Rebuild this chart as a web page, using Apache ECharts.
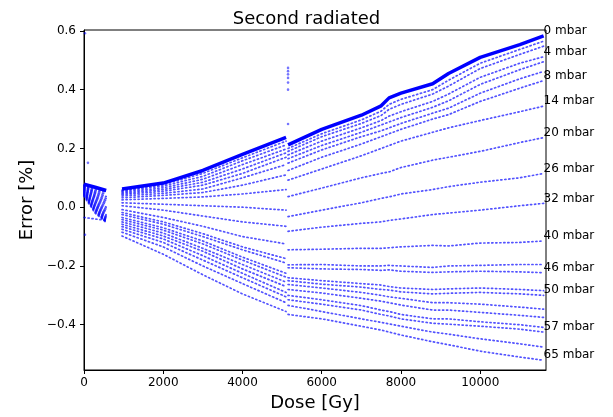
<!DOCTYPE html>
<html><head><meta charset="utf-8">
<script src="https://cdn.jsdelivr.net/npm/echarts@6/dist/echarts.min.js"></script>
<style>html,body{margin:0;padding:0;background:#fff}#c{width:613px;height:417px}</style>
</head><body><div id="c"></div>
<script>
// Dose sample points (Gy) for the three measurement segments
const doseA = [0, 280, 560];
const doseB = [960, 2000, 3000, 4000, 5100];
const doseC = [5150, 6000, 7000, 7500, 7700, 8000, 8800, 9200, 10000, 11000, 11600];

// Error [%] per pressure curve, values for doseA | doseB | doseC
const s0   = [0.078,0.068,0.057, 0.062,0.082,0.125,0.18,0.238, 0.212,0.265,0.313,0.345,0.372,0.388,0.42,0.455,0.51,0.553,0.583];
const s0b  = [0.076,0.063,0.05, 0.058,0.077,0.115,0.168,0.225, 0.20,0.25,0.297,0.327,0.35,0.367,0.40,0.432,0.49,0.537,0.565];
const s0c  = [0.074,0.058,0.043, 0.055,0.072,0.105,0.158,0.212, 0.19,0.24,0.285,0.312,0.333,0.35,0.385,0.412,0.472,0.52,0.548];
const s4   = [0.072,0.053,0.036, 0.051,0.066,0.095,0.145,0.198, 0.178,0.225,0.27,0.295,0.31,0.325,0.36,0.385,0.442,0.49,0.512];
const s4b  = [0.07,0.049,0.029, 0.047,0.06,0.085,0.13,0.185, 0.165,0.21,0.255,0.28,0.29,0.305,0.34,0.362,0.418,0.468,0.495];
const s4c  = [0.068,0.045,0.022, 0.043,0.054,0.075,0.115,0.17, 0.15,0.195,0.24,0.26,0.27,0.285,0.32,0.337,0.388,0.437,0.462];
const s8   = [0.066,0.04,0.015, 0.038,0.047,0.062,0.10,0.145, 0.125,0.17,0.215,0.24,0.25,0.265,0.30,0.315,0.36,0.405,0.431];
const s14  = [0.064,0.036,0.008, 0.032,0.04,0.05,0.075,0.11, 0.092,0.13,0.175,0.20,0.21,0.225,0.255,0.27,0.295,0.325,0.344];
const s20  = [0.062,0.032,0.0, 0.025,0.03,0.035,0.045,0.06, 0.036,0.065,0.10,0.115,0.12,0.135,0.16,0.17,0.19,0.22,0.237];
const s26  = [0.06,0.027,-0.007, 0.015,0.01,0.005,0.0,-0.01, -0.032,-0.01,0.015,0.03,0.035,0.045,0.06,0.07,0.085,0.10,0.115];
const s32  = [0.058,0.022,-0.014, 0.005,-0.01,-0.03,-0.05,-0.065, -0.082,-0.068,-0.055,-0.05,-0.045,-0.04,-0.025,-0.02,-0.01,0.005,0.013];
const s40  = [0.056,0.018,-0.02, -0.008,-0.035,-0.065,-0.10,-0.125, -0.145,-0.143,-0.14,-0.14,-0.138,-0.135,-0.13,-0.132,-0.122,-0.12,-0.115];
const s46a = [0.054,0.013,-0.026, -0.018,-0.05,-0.09,-0.135,-0.175, -0.196,-0.195,-0.20,-0.20,-0.198,-0.20,-0.205,-0.20,-0.198,-0.195,-0.195];
const s46  = [0.052,0.009,-0.031, -0.025,-0.058,-0.10,-0.145,-0.19, -0.206,-0.21,-0.212,-0.215,-0.213,-0.218,-0.222,-0.22,-0.218,-0.22,-0.223];
const s50a = [0.05,0.005,-0.036, -0.035,-0.07,-0.115,-0.17,-0.225, -0.24,-0.25,-0.26,-0.265,-0.27,-0.275,-0.28,-0.278,-0.275,-0.28,-0.284];
const s50  = [0.048,0.0,-0.04, -0.042,-0.078,-0.125,-0.18,-0.238, -0.25,-0.262,-0.272,-0.28,-0.282,-0.288,-0.295,-0.293,-0.29,-0.295,-0.30];
const s50c = [0.046,-0.004,-0.043, -0.05,-0.088,-0.14,-0.195,-0.255, -0.263,-0.275,-0.29,-0.30,-0.305,-0.31,-0.325,-0.325,-0.33,-0.34,-0.347];
const s50d = [0.044,-0.008,-0.046, -0.058,-0.098,-0.15,-0.21,-0.27, -0.28,-0.292,-0.31,-0.32,-0.325,-0.333,-0.35,-0.35,-0.358,-0.368,-0.375];
const s57a = [0.042,-0.012,-0.048, -0.066,-0.108,-0.165,-0.225,-0.29, -0.30,-0.315,-0.335,-0.35,-0.355,-0.365,-0.38,-0.38,-0.39,-0.40,-0.409];
const s57  = [0.04,-0.016,-0.05, -0.075,-0.12,-0.18,-0.24,-0.305, -0.315,-0.33,-0.35,-0.365,-0.37,-0.38,-0.395,-0.398,-0.405,-0.415,-0.425];
const s57b = [0.037,-0.02,-0.052, -0.085,-0.135,-0.20,-0.26,-0.325, -0.334,-0.355,-0.38,-0.392,-0.397,-0.405,-0.425,-0.432,-0.448,-0.465,-0.476];
const s65  = [-0.035,-0.04,-0.045, -0.098,-0.16,-0.23,-0.295,-0.355, -0.365,-0.38,-0.405,-0.418,-0.425,-0.435,-0.458,-0.468,-0.49,-0.51,-0.521];

const curves = [s0,s0b,s0c,s4,s4b,s4c,s8,s14,s20,s26,s32,s40,s46a,s46,s50a,s50,s50c,s50d,s57a,s57,s57b,s65];
const curveLabels = ['0 mbar','','','4 mbar','','','8 mbar','14 mbar','20 mbar','26 mbar','32 mbar','40 mbar','','46 mbar','','50 mbar','','','','57 mbar','','65 mbar'];

// isolated outlier points
const outlierDose = [25, 100, 25, 5150, 5150, 5150, 5150, 5150, 5150, 5150];
const outlierVal  = [0.592, 0.151, -0.094, 0.474, 0.463, 0.452, 0.44, 0.424, 0.40, 0.283];

const xTicks = [0, 2000, 4000, 6000, 8000, 10000];
const yTicks = [-0.4, -0.2, 0.0, 0.2, 0.4, 0.6];

const FONT = 'DejaVu Sans';
const BLUE = 'rgba(0,0,255,0.68)';

const series = curves.map((vals, i) => {
  const pts = [];
  doseA.forEach((d, j) => pts.push([d, vals[j]]));
  pts.push([760, null]);
  doseB.forEach((d, j) => pts.push([d, vals[doseA.length + j]]));
  pts.push([5125, null]);
  doseC.forEach((d, j) => pts.push([d, vals[doseA.length + doseB.length + j]]));
  const top = i === 0;
  const s = {
    type: 'line', data: pts, symbol: 'none', showSymbol: false,
    connectNulls: false, silent: true, z: top ? 3 : 2,
    lineStyle: top ? {width: 3.5, color: 'rgb(0,0,255)'} :
      {width: 1.7, type: [1.2, 2.8], cap: 'round', color: BLUE}
  };
  if (curveLabels[i]) {
    s.endLabel = {show: true, formatter: curveLabels[i], distance: 0, offset: [0, -5],
      color: '#000', fontSize: 12, fontFamily: FONT};
  }
  return s;
});
series.push({
  type: 'scatter', symbolSize: 2.6, silent: true,
  itemStyle: {color: BLUE},
  data: outlierDose.map((d, i) => [d, outlierVal[i]])
});

const fmtY = v => (Math.abs(v) < 1e-9 ? '0.0' : v.toFixed(1)).replace('-', '\u2212');
const fmtX = v => String(Math.round(v));

const chart = echarts.init(document.getElementById('c'), null, {renderer: 'canvas'});
chart.setOption({
  animation: false,
  backgroundColor: '#fff',
  title: {text: 'Second radiated', left: 'center', top: 5,
    textStyle: {fontFamily: FONT, fontSize: 18, fontWeight: 'normal', color: '#000'}},
  grid: {left: 84, right: 67, top: 30, bottom: 44, show: true, borderColor: '#000', borderWidth: 1},
  xAxis: {
    type: 'value', min: 0, max: 11660,
    name: 'Dose [Gy]', nameLocation: 'middle', nameGap: 24,
    nameTextStyle: {fontFamily: FONT, fontSize: 18, color: '#000'},
    axisLine: {onZero: false, lineStyle: {color: '#000'}},
    axisTick: {show: true, length: 4, inside: false, customValues: xTicks, lineStyle: {color: '#000'}},
    axisLabel: {customValues: xTicks, margin: 7, fontFamily: FONT, fontSize: 12, color: '#000', formatter: fmtX},
    splitLine: {show: false}
  },
  yAxis: {
    type: 'value', min: -0.554, max: 0.603,
    name: 'Error [%]', nameLocation: 'middle', nameGap: 38,
    nameTextStyle: {fontFamily: FONT, fontSize: 18, color: '#000'},
    axisLine: {onZero: false, lineStyle: {color: '#000'}},
    axisTick: {show: true, length: 4, inside: false, customValues: yTicks, lineStyle: {color: '#000'}},
    axisLabel: {customValues: yTicks, margin: 8, fontFamily: FONT, fontSize: 12, color: '#000', formatter: fmtY},
    splitLine: {show: false}
  },
  series: series
});
</script></body></html>
